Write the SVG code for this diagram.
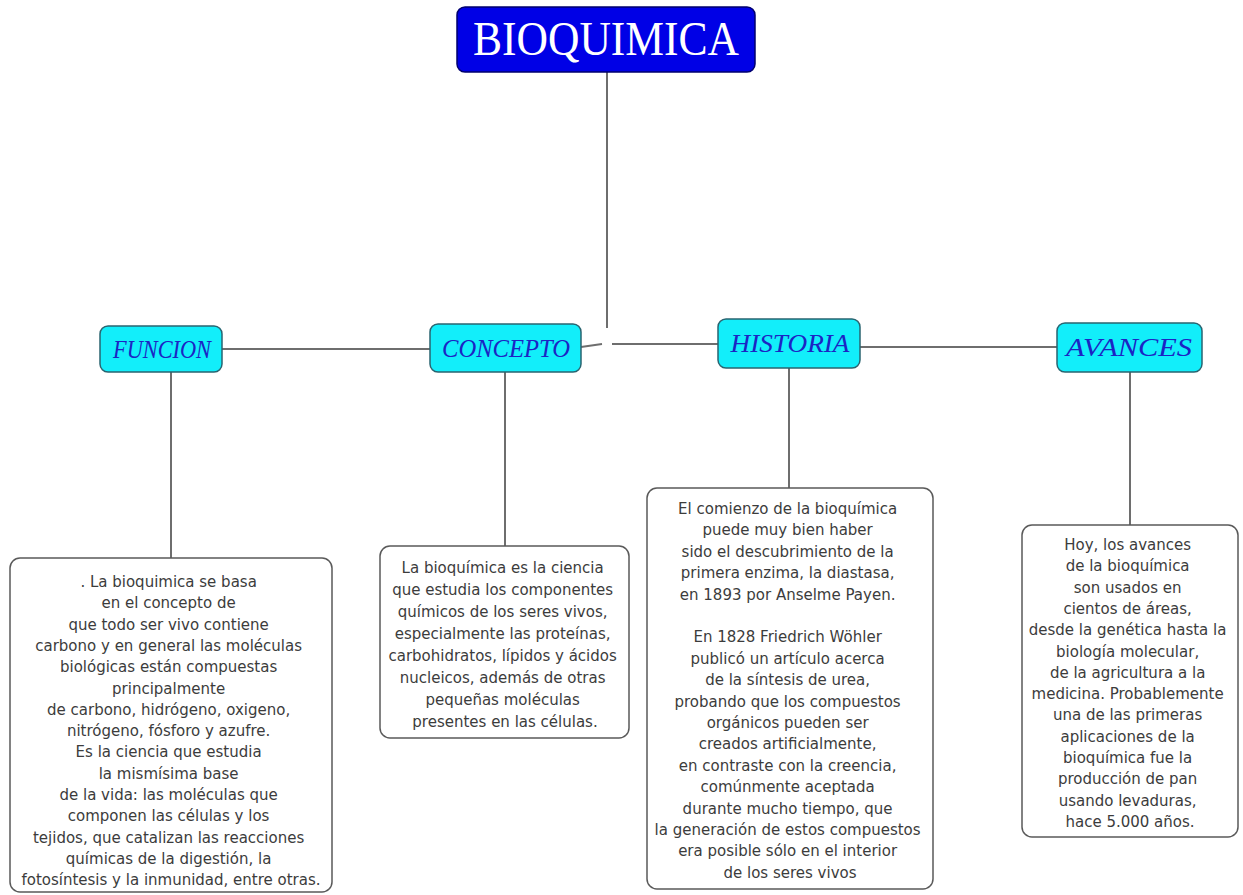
<svg xmlns="http://www.w3.org/2000/svg" width="1243" height="895" viewBox="0 0 1243 895">
<style>
.conn{stroke:#6e6e6e;stroke-width:2;fill:none}
.node{fill:#12eefa;stroke:#2a6470;stroke-width:1.5}
.lbl{font-family:"Liberation Serif",serif;font-style:italic;font-size:26px;fill:#1c24c4;text-anchor:middle}
.box{fill:#ffffff;stroke:#5a5a5a;stroke-width:1.5}
.txt{font-family:"DejaVu Sans",sans-serif;font-size:15px;fill:#3c3c3c;text-anchor:middle}
</style>
<rect width="1243" height="895" fill="#ffffff"/>
<g id="connectors">
<line class="conn" x1="607" y1="72" x2="607" y2="328"/>
<line class="conn" x1="222" y1="349" x2="430" y2="349"/>
<line class="conn" x1="581" y1="347" x2="602" y2="344"/>
<line class="conn" x1="612" y1="344" x2="718" y2="344"/>
<line class="conn" x1="860" y1="347" x2="1057" y2="347"/>
<line class="conn" x1="171" y1="372" x2="171" y2="558"/>
<line class="conn" x1="505" y1="372" x2="505" y2="546"/>
<line class="conn" x1="789" y1="368" x2="789" y2="488"/>
<line class="conn" x1="1130" y1="372" x2="1130" y2="525"/>
</g>
<g id="bioquimica">
<rect x="457" y="7" width="298" height="65" rx="8" fill="#0000e6" stroke="#00006e" stroke-width="1.5"/>
<text x="606" y="55" font-family="'Liberation Serif',serif" font-size="48" fill="#ffffff" text-anchor="middle" textLength="266" lengthAdjust="spacingAndGlyphs">BIOQUIMICA</text>
</g>
<g id="funcion">
<rect class="node" x="100" y="326" width="122" height="46" rx="8"/>
<text class="lbl" x="162" y="358" textLength="98" lengthAdjust="spacingAndGlyphs">FUNCION</text>
</g>
<g id="concepto">
<rect class="node" x="430" y="324" width="151" height="48" rx="8"/>
<text class="lbl" x="506" y="357" textLength="128" lengthAdjust="spacingAndGlyphs">CONCEPTO</text>
</g>
<g id="historia">
<rect class="node" x="718" y="319" width="142" height="49" rx="8"/>
<text class="lbl" x="790" y="352" textLength="119" lengthAdjust="spacingAndGlyphs">HISTORIA</text>
</g>
<g id="avances">
<rect class="node" x="1057" y="323" width="145" height="49" rx="8"/>
<text class="lbl" x="1129" y="356" textLength="126" lengthAdjust="spacingAndGlyphs">AVANCES</text>
</g>
<g id="funcion-texto">
<rect class="box" x="10" y="558" width="322" height="334" rx="10"/>
<text class="txt">
<tspan x="171" y="587">. La bioquimica se basa</tspan>
<tspan x="171" y="608.3">en el concepto de</tspan>
<tspan x="171" y="629.6">que todo ser vivo contiene</tspan>
<tspan x="171" y="650.9">carbono y en general las moléculas</tspan>
<tspan x="171" y="672.2">biológicas están compuestas</tspan>
<tspan x="171" y="693.5">principalmente</tspan>
<tspan x="171" y="714.8">de carbono, hidrógeno, oxigeno,</tspan>
<tspan x="171" y="736.1">nitrógeno, fósforo y azufre.</tspan>
<tspan x="171" y="757.4">Es la ciencia que estudia</tspan>
<tspan x="171" y="778.7">la mismísima base</tspan>
<tspan x="171" y="800">de la vida: las moléculas que</tspan>
<tspan x="171" y="821.3">componen las células y los</tspan>
<tspan x="171" y="842.6">tejidos, que catalizan las reacciones</tspan>
<tspan x="171" y="863.9">químicas de la digestión, la</tspan>
<tspan x="171" y="885.2">fotosíntesis y la inmunidad, entre otras.</tspan>
</text>
</g>
<g id="concepto-texto">
<rect class="box" x="380" y="546" width="249" height="192" rx="10"/>
<text class="txt">
<tspan x="505" y="573">La bioquímica es la ciencia</tspan>
<tspan x="505" y="595">que estudia los componentes</tspan>
<tspan x="505" y="617">químicos de los seres vivos,</tspan>
<tspan x="505" y="639">especialmente las proteínas,</tspan>
<tspan x="505" y="661">carbohidratos, lípidos y ácidos</tspan>
<tspan x="505" y="683">nucleicos, además de otras</tspan>
<tspan x="505" y="705">pequeñas moléculas</tspan>
<tspan x="505" y="727">presentes en las células.</tspan>
</text>
</g>
<g id="historia-texto">
<rect class="box" x="647" y="488" width="286" height="401" rx="10"/>
<text class="txt">
<tspan x="790" y="514">El comienzo de la bioquímica</tspan>
<tspan x="790" y="535.4">puede muy bien haber</tspan>
<tspan x="790" y="556.8">sido el descubrimiento de la</tspan>
<tspan x="790" y="578.2">primera enzima, la diastasa,</tspan>
<tspan x="790" y="599.6">en 1893 por Anselme Payen.</tspan>
<tspan x="790" y="642.4">En 1828 Friedrich Wöhler</tspan>
<tspan x="790" y="663.8">publicó un artículo acerca</tspan>
<tspan x="790" y="685.2">de la síntesis de urea,</tspan>
<tspan x="790" y="706.6">probando que los compuestos</tspan>
<tspan x="790" y="728">orgánicos pueden ser</tspan>
<tspan x="790" y="749.4">creados artificialmente,</tspan>
<tspan x="790" y="770.8">en contraste con la creencia,</tspan>
<tspan x="790" y="792.2">comúnmente aceptada</tspan>
<tspan x="790" y="813.6">durante mucho tiempo, que</tspan>
<tspan x="790" y="835">la generación de estos compuestos</tspan>
<tspan x="790" y="856.4">era posible sólo en el interior</tspan>
<tspan x="790" y="877.8">de los seres vivos</tspan>
</text>
</g>
<g id="avances-texto">
<rect class="box" x="1022" y="525" width="216" height="312" rx="10"/>
<text class="txt">
<tspan x="1130" y="550">Hoy, los avances</tspan>
<tspan x="1130" y="571.3">de la bioquímica</tspan>
<tspan x="1130" y="592.6">son usados en</tspan>
<tspan x="1130" y="613.9">cientos de áreas,</tspan>
<tspan x="1130" y="635.2">desde la genética hasta la</tspan>
<tspan x="1130" y="656.5">biología molecular,</tspan>
<tspan x="1130" y="677.8">de la agricultura a la</tspan>
<tspan x="1130" y="699.1">medicina. Probablemente</tspan>
<tspan x="1130" y="720.4">una de las primeras</tspan>
<tspan x="1130" y="741.7">aplicaciones de la</tspan>
<tspan x="1130" y="763">bioquímica fue la</tspan>
<tspan x="1130" y="784.3">producción de pan</tspan>
<tspan x="1130" y="805.6">usando levaduras,</tspan>
<tspan x="1130" y="826.9">hace 5.000 años.</tspan>
</text>
</g>
</svg>
